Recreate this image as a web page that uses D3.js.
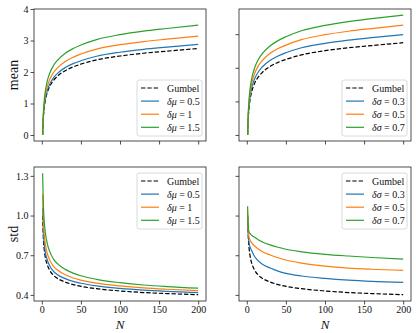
<!DOCTYPE html>
<html><head><meta charset="utf-8">
<script src="https://cdn.jsdelivr.net/npm/d3@7"></script>
<style>
html,body{margin:0;padding:0;background:#fff;}
svg{display:block;}
text{font-family:"Liberation Serif","DejaVu Serif",serif;fill:#111;}
</style></head><body>
<svg id="c" width="416" height="333"></svg>
<script>
// ---- data ----
const Nvals = [1,2,3,4,5,7,10,15,20,30,40,50,70,100,130,160,200];
const xTicks = [0,50,100,150,200];
const meanTicks = [0,1,2,3,4];
const meanTicksRight = [0,1,2,3];
const stdTicks = [0.4,0.7,1.0,1.3];
const stdTickLabels = ["0.4","0.7","1.0","1.3"];

const meanGumbel = [0,0.564,0.846,1.029,1.163,1.352,1.539,1.736,1.867,2.043,2.161,2.249,2.385,2.508,2.595,2.662,2.746];
const meanMu05 = [0,0.591,0.887,1.078,1.219,1.417,1.613,1.819,1.957,2.141,2.265,2.357,2.499,2.628,2.720,2.790,2.878];
const meanMu1  = [0,0.645,0.967,1.176,1.329,1.545,1.759,1.984,2.134,2.335,2.470,2.571,2.726,2.867,2.966,3.043,3.139];
const meanMu15 = [0,0.716,1.074,1.307,1.477,1.717,1.955,2.205,2.371,2.595,2.744,2.856,3.029,3.185,3.296,3.381,3.487];

const meanSig03 = [0,0.614,0.920,1.120,1.265,1.471,1.674,1.889,2.031,2.223,2.351,2.447,2.595,2.729,2.823,2.896,2.988];
const meanSig05 = [0,0.671,1.007,1.225,1.384,1.609,1.831,2.066,2.222,2.431,2.572,2.676,2.838,2.985,3.088,3.168,3.268];
const meanSig07 = [0,0.733,1.100,1.338,1.512,1.758,2.001,2.257,2.427,2.656,2.809,2.924,3.101,3.260,3.374,3.461,3.570];

const stdGumbel = [1.0,0.826,0.748,0.701,0.669,0.627,0.587,0.548,0.525,0.497,0.478,0.465,0.447,0.430,0.418,0.410,0.402];
const stdMu05 = [1.060,0.876,0.794,0.743,0.709,0.664,0.621,0.578,0.553,0.523,0.502,0.488,0.468,0.449,0.436,0.427,0.418];
const stdMu1  = [1.160,0.955,0.861,0.805,0.766,0.714,0.665,0.616,0.588,0.552,0.528,0.512,0.489,0.468,0.453,0.443,0.433];
const stdMu15 = [1.320,1.076,0.965,0.897,0.850,0.788,0.729,0.671,0.636,0.593,0.565,0.545,0.518,0.493,0.475,0.463,0.451];

const stdSig03 = [1.000,0.840,0.790,0.765,0.750,0.725,0.690,0.655,0.632,0.603,0.580,0.563,0.543,0.525,0.512,0.503,0.495];
const stdSig05 = [1.040,0.870,0.835,0.815,0.805,0.788,0.770,0.745,0.727,0.702,0.681,0.664,0.641,0.618,0.603,0.594,0.586];
const stdSig07 = [1.070,0.900,0.875,0.865,0.858,0.848,0.836,0.815,0.800,0.778,0.760,0.745,0.726,0.707,0.694,0.683,0.671];

const muLabels = ["0.5","1","1.5"];
const sigLabels = ["0.3","0.5","0.7"];
const colors = ["#1f77b4","#ff7f0e","#2ca02c"];

// ---- drawing ----
const svg = d3.select("#c");

function panel(opts){
  const {x0,x1,y0,y1,ydom,yt,ytl,showY,showX,gumbel,series,sym,labs,legendPos} = opts;
  const x = d3.scaleLinear().domain([-10,210]).range([x0,x1]);
  const y = d3.scaleLinear().domain(ydom).range([y1,y0]);
  const g = svg.append("g");

  const line = d3.line().x((d,i)=>x(Nvals[i])).y(d=>y(d)).curve(d3.curveMonotoneX);
  const clipId = "clip"+x0+"_"+y0;
  svg.append("clipPath").attr("id",clipId).append("rect")
    .attr("x",x0).attr("y",y0).attr("width",x1-x0).attr("height",y1-y0);
  const lg = g.append("g").attr("clip-path","url(#"+clipId+")");
  lg.append("path").datum(gumbel).attr("d",line).attr("fill","none")
    .attr("stroke","#000").attr("stroke-width",1.2).attr("stroke-dasharray","4.4,1.9");
  series.forEach((s,i)=>{
    lg.append("path").datum(s).attr("d",line).attr("fill","none")
      .attr("stroke",colors[i]).attr("stroke-width",1.2);
  });

  // spines
  g.append("rect").attr("x",x0).attr("y",y0).attr("width",x1-x0).attr("height",y1-y0)
    .attr("fill","none").attr("stroke","#222").attr("stroke-width",0.8);

  // axes
  const xa = d3.axisBottom(x).tickValues(xTicks).tickSize(3.5).tickPadding(1)
    .tickFormat(showX ? d3.format("d") : ()=>"");
  const gx = g.append("g").attr("transform","translate(0,"+y1+")").call(xa);
  const ya = d3.axisLeft(y).tickValues(yt).tickSize(3.5).tickPadding(2)
    .tickFormat(showY ? ((d,i)=>ytl[i]) : ()=>"");
  const gy = g.append("g").attr("transform","translate("+x0+",0)").call(ya);
  [gx,gy].forEach(a=>{
    a.select(".domain").remove();
    a.selectAll(".tick line").attr("stroke","#222").attr("stroke-width",0.8);
    a.selectAll(".tick text").attr("font-family","Liberation Serif, serif").attr("font-size",10).attr("fill","#111");
  });

  // legend
  const [lx,ly] = legendPos;
  const lw = 65, lh = 56;
  const leg = g.append("g");
  leg.append("rect").attr("x",lx).attr("y",ly).attr("width",lw).attr("height",lh)
    .attr("rx",2).attr("fill","#fff").attr("fill-opacity",0.85)
    .attr("stroke","#d0d0d0").attr("stroke-width",0.8);
  const rows = [{c:"#000",dash:"4.4,1.9",t:null}].concat(labs.map((l,i)=>({c:colors[i],dash:null,t:l})));
  rows.forEach((r,i)=>{
    const yy = ly + 8 + i*13.1;
    leg.append("line").attr("x1",lx+4).attr("x2",lx+22).attr("y1",yy).attr("y2",yy)
      .attr("stroke",r.c).attr("stroke-width",1.2).attr("stroke-dasharray",r.dash);
    const t = leg.append("text").attr("x",lx+30).attr("y",yy+3.5).attr("font-size",10);
    if(r.t===null){ t.text("Gumbel"); }
    else {
      t.append("tspan").attr("font-style","italic").text("δ"+sym);
      t.append("tspan").text(" = "+r.t);
    }
  });
  return {x,y};
}

const LX0=34, LX1=206, RX0=239, RX1=411;
const TY0=9, TY1=141, BY0=167, BY1=301;

panel({x0:LX0,x1:LX1,y0:TY0,y1:TY1,ydom:[-0.19,4.0],yt:meanTicks,ytl:meanTicks.map(String),
  showY:true,showX:false,gumbel:meanGumbel,series:[meanMu05,meanMu1,meanMu15],sym:"μ",labs:muLabels,legendPos:[137,80]});
panel({x0:RX0,x1:RX1,y0:TY0,y1:TY1,ydom:[-0.18,3.75],yt:meanTicksRight,ytl:meanTicksRight.map(String),
  showY:false,showX:false,gumbel:meanGumbel,series:[meanSig03,meanSig05,meanSig07],sym:"σ",labs:sigLabels,legendPos:[342,80]});
panel({x0:LX0,x1:LX1,y0:BY0,y1:BY1,ydom:[0.354,1.367],yt:stdTicks,ytl:stdTickLabels,
  showY:true,showX:true,gumbel:stdGumbel,series:[stdMu05,stdMu1,stdMu15],sym:"μ",labs:muLabels,legendPos:[137,173]});
panel({x0:RX0,x1:RX1,y0:BY0,y1:BY1,ydom:[0.354,1.367],yt:stdTicks,ytl:stdTickLabels,
  showY:false,showX:true,gumbel:stdGumbel,series:[stdSig03,stdSig05,stdSig07],sym:"σ",labs:sigLabels,legendPos:[342,173]});

// axis titles
svg.append("text").attr("transform","translate(18,75) rotate(-90)").attr("text-anchor","middle")
  .attr("font-size",14).text("mean");
svg.append("text").attr("transform","translate(18,234) rotate(-90)").attr("text-anchor","middle")
  .attr("font-size",14).text("std");
svg.append("text").attr("x",120).attr("y",329).attr("text-anchor","middle")
  .attr("font-size",13).attr("font-style","italic").text("N");
svg.append("text").attr("x",325).attr("y",329).attr("text-anchor","middle")
  .attr("font-size",13).attr("font-style","italic").text("N");
</script>
</body></html>
